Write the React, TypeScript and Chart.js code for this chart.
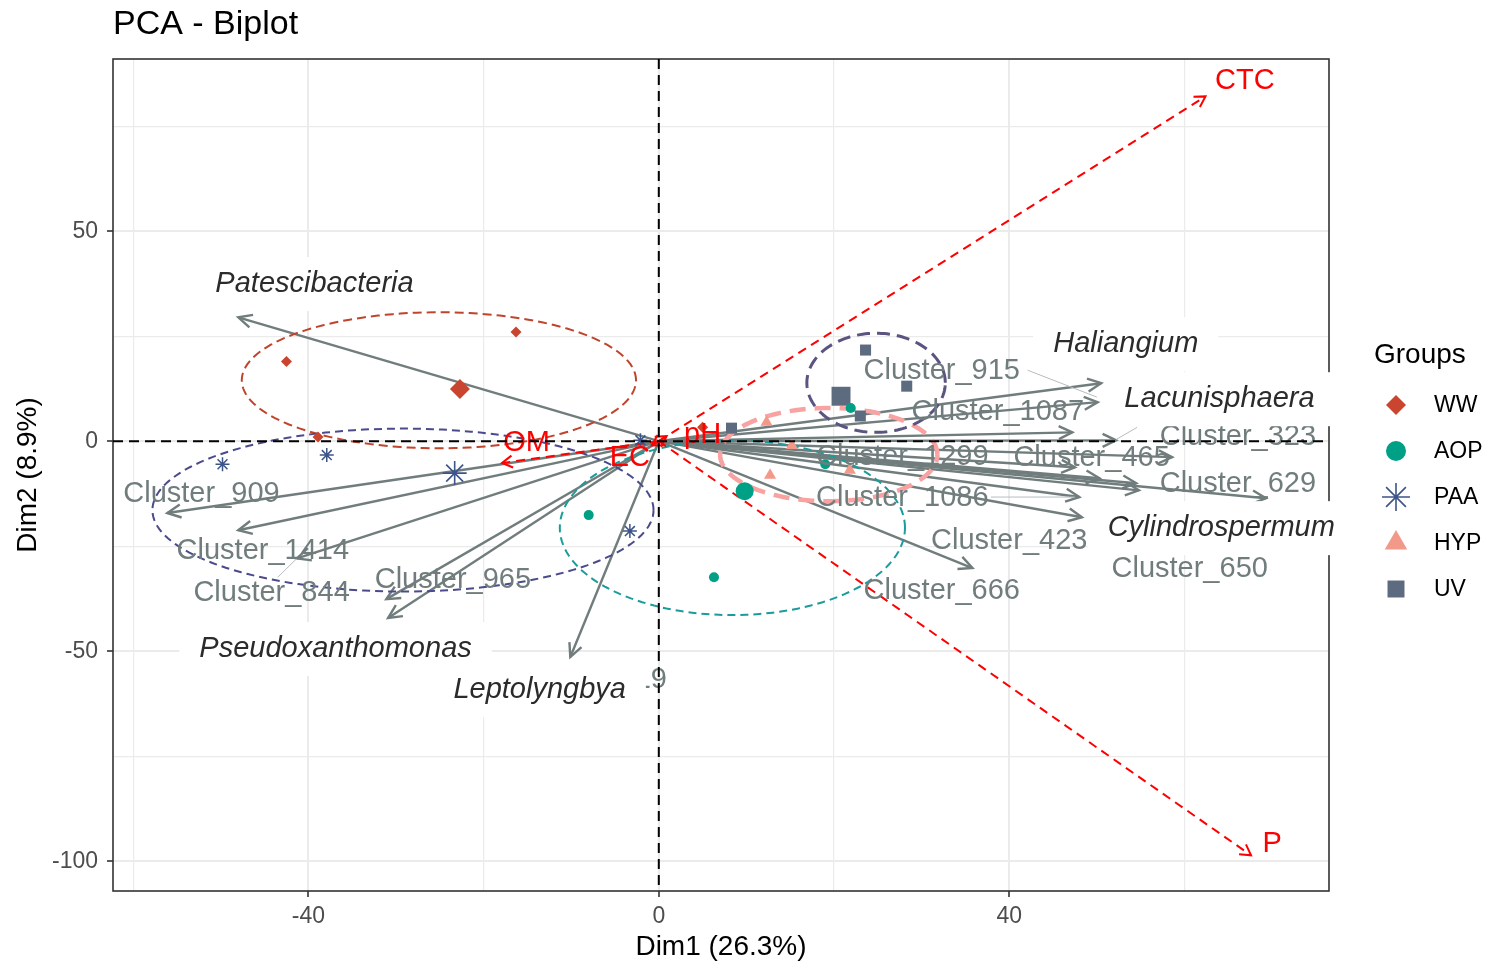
import React, { useEffect, useRef } from "react";
import { Chart, registerables } from "chart.js";

Chart.register(...registerables);

const FONT = "'Liberation Sans', Arial, Helvetica, sans-serif";

// ---------------- axes ----------------
const xMin = -62.3;
const xMax = 76.5;
const yMin = -107.1;
const yMax = 91.0;
const xGridValues = [-60, -40, -20, 0, 20, 40, 60];
const xTickValues = [-40, 0, 40];
const yGridValues = [-100, -75, -50, -25, 0, 25, 50, 75];
const yTickValues = [-100, -50, 0, 50];
const xTitle = "Dim1 (26.3%)";
const yTitle = "Dim2 (8.9%)";
const chartTitle = "PCA - Biplot";

// ---------------- individuals ----------------
const groupNames = ["WW", "AOP", "PAA", "HYP", "UV"];
const groupColors = ["#C9452F", "#00A087", "#3C5488", "#F3998A", "#5C6B80"];
const groupStyles = ["rectRot", "circle", "star", "triangle", "rect"];

const wwX = [-42.5, -16.3, -38.9, 5.0];
const wwY = [19.0, 26.0, 1.0, 3.3];
const aopX = [-8.0, 6.3, 21.9, 19.0];
const aopY = [-17.6, -32.4, 7.9, -5.5];
const paaX = [-49.8, -37.9, -3.3, -2.1];
const paaY = [-5.5, -3.3, -21.4, 0.2];
const hypX = [12.3, 15.2, 12.7, 21.8];
const hypY = [4.5, -1.0, -8.1, -6.9];
const uvX = [23.6, 28.3, 23.0, 8.3];
const uvY = [21.7, 13.1, 6.0, 3.1];

// group mean points (WW, AOP, PAA, UV)
const meanGroups = ["WW", "AOP", "PAA", "UV"];
const meanX = [-22.7, 9.8, -23.3, 20.8];
const meanY = [12.4, -11.9, -7.6, 10.7];

// ---------------- concentration ellipses ----------------
const ellipseGroups = ["WW", "PAA", "AOP", "HYP", "UV"];
const ellipseCX = [-25.1, -29.2, 8.4, 19.4, 24.8];
const ellipseCY = [14.5, -16.4, -20.6, -3.2, 13.9];
const ellipseRX = [22.5, 28.6, 19.7, 12.4, 7.9];
const ellipseRY = [16.2, 19.4, 20.8, 11.1, 11.8];
const ellipseColors = ["#C0432C", "#4A4A8C", "#1A9C9A", "#F8A2A2", "#5A5480"];
const ellipseWidths = [2, 2, 2, 4.5, 3];
const ellipseDash = [[9, 5], [8, 5], [8, 5], [16, 9], [13, 7]];

// ---------------- variable arrows (taxa) ----------------
const varX = [-48.0, -56.1, -48.0, -41.3, -31.1, -30.9, -10.1, 50.5, 50.1, 47.2, 52.2, 58.6, 47.5, 50.3, 54.5, 54.8, 48.0, 48.3, 69.3, 35.8];
const varY = [29.5, -17.1, -21.2, -27.9, -37.6, -42.1, -51.4, 13.8, 9.3, 2.1, 0.2, -3.8, -6.2, -8.8, -10.0, -11.7, -13.3, -18.1, -13.6, -30.2];

const clusterLabels = ["Cluster_909", "Cluster_1414", "Cluster_844", "Cluster_965", "Cluster_519", "Cluster_915", "Cluster_1087", "Cluster_323", "Cluster_1299", "Cluster_465", "Cluster_1086", "Cluster_629", "Cluster_423", "Cluster_650", "Cluster_666"];
const clusterLabelX = [-52.2, -45.2, -44.2, -23.5, -8.0, 32.3, 38.7, 66.1, 27.8, 49.4, 27.8, 66.1, 40.0, 60.6, 32.3];
const clusterLabelY = [-12.6, -26.2, -36.2, -33.1, -56.9, 16.7, 6.9, 1.0, -3.8, -4.0, -13.6, -10.2, -23.8, -30.5, -35.7];

const genusLabels = ["Patescibacteria", "Haliangium", "Lacunisphaera", "Cylindrospermum", "Pseudoxanthomonas", "Leptolyngbya"];
const genusLabelX = [-39.3, 53.3, 64.0, 64.2, -36.9, -13.6];
const genusLabelY = [37.4, 23.1, 10.0, -20.7, -49.5, -59.3];

// leader segments (from label to arrow tip)
const leaderX0 = [42.1, -43.5, 54.6, 37.9];
const leaderY0 = [16.9, -32.4, 3.3, -13.3];
const leaderX1 = [50.0, -41.3, 52.2, 47.5];
const leaderY1 = [10.5, -27.9, 0.4, -13.3];

// ---------------- supplementary variables ----------------
const supNames = ["CTC", "P", "OM", "EC", "pH"];
const supX = [62.4, 67.6, -17.9, -0.8, 0.9];
const supY = [82.1, -98.6, -5.2, -1.0, 1.2];
const supLabelX = [66.9, 70.0, -15.1, -3.3, 5.0];
const supLabelY = [85.7, -96.0, -0.5, -4.0, 1.4];

// ---------------- helpers ----------------
function arrowHead(ctx: CanvasRenderingContext2D, x0: number, y0: number, x1: number, y1: number, len: number, ang: number) {
  const a = Math.atan2(y1 - y0, x1 - x0);
  ctx.beginPath();
  ctx.moveTo(x1 - len * Math.cos(a - ang), y1 - len * Math.sin(a - ang));
  ctx.lineTo(x1, y1);
  ctx.lineTo(x1 - len * Math.cos(a + ang), y1 - len * Math.sin(a + ang));
  ctx.stroke();
}

function drawMarker(ctx: CanvasRenderingContext2D, style: string, x: number, y: number, r: number, color: string) {
  ctx.save();
  ctx.fillStyle = color;
  ctx.strokeStyle = color;
  ctx.setLineDash([]);
  ctx.beginPath();
  if (style === "rectRot") {
    ctx.moveTo(x, y - r);
    ctx.lineTo(x + r, y);
    ctx.lineTo(x, y + r);
    ctx.lineTo(x - r, y);
    ctx.closePath();
    ctx.fill();
  } else if (style === "circle") {
    ctx.arc(x, y, r, 0, Math.PI * 2);
    ctx.fill();
  } else if (style === "star") {
    ctx.lineWidth = 1.6;
    for (let k = 0; k < 4; k++) {
      const a = (k * Math.PI) / 4;
      ctx.moveTo(x - r * Math.cos(a), y - r * Math.sin(a));
      ctx.lineTo(x + r * Math.cos(a), y + r * Math.sin(a));
    }
    ctx.stroke();
  } else if (style === "triangle") {
    ctx.moveTo(x, y - r);
    ctx.lineTo(x + r * Math.sin(Math.PI / 3), y + r / 2);
    ctx.lineTo(x - r * Math.sin(Math.PI / 3), y + r / 2);
    ctx.closePath();
    ctx.fill();
  } else {
    const s = r * Math.SQRT1_2;
    ctx.rect(x - s, y - s, 2 * s, 2 * s);
    ctx.fill();
  }
  ctx.restore();
}

const ARROW_GRAY = "#717D7D";

const biplotPlugin = {
  id: "biplot",
  beforeDatasetsDraw(chart: any) {
    const ctx: CanvasRenderingContext2D = chart.ctx;
    const px = (v: number) => chart.scales.x.getPixelForValue(v);
    const py = (v: number) => chart.scales.y.getPixelForValue(v);
    const { left, right, top, bottom } = chart.chartArea;
    ctx.save();
    // panel border
    ctx.strokeStyle = "#333333";
    ctx.lineWidth = 1.6;
    ctx.strokeRect(left, top, right - left, bottom - top);

    // gray variable arrows
    const ox = px(0);
    const oy = py(0);
    ctx.strokeStyle = ARROW_GRAY;
    ctx.lineWidth = 2.4;
    ctx.lineCap = "butt";
    varX.forEach((vx, i) => {
      const tx = px(vx);
      const ty = py(varY[i]);
      ctx.beginPath();
      ctx.moveTo(ox, oy);
      ctx.lineTo(tx, ty);
      ctx.stroke();
      arrowHead(ctx, ox, oy, tx, ty, 15, Math.PI / 7);
    });

    // leader lines
    ctx.strokeStyle = "#B5BDBD";
    ctx.lineWidth = 1;
    leaderX0.forEach((lx, i) => {
      ctx.beginPath();
      ctx.moveTo(px(lx), py(leaderY0[i]));
      ctx.lineTo(px(leaderX1[i]), py(leaderY1[i]));
      ctx.stroke();
    });

    // ellipses
    ellipseCX.forEach((cx, i) => {
      ctx.strokeStyle = ellipseColors[i];
      ctx.lineWidth = ellipseWidths[i];
      ctx.setLineDash(ellipseDash[i]);
      ctx.beginPath();
      const n = 160;
      for (let k = 0; k <= n; k++) {
        const t = (k / n) * Math.PI * 2;
        const x = px(cx + ellipseRX[i] * Math.cos(t));
        const y = py(ellipseCY[i] + ellipseRY[i] * Math.sin(t));
        if (k === 0) ctx.moveTo(x, y);
        else ctx.lineTo(x, y);
      }
      ctx.stroke();
    });
    ctx.setLineDash([]);

    // supplementary red arrows
    ctx.strokeStyle = "#FF0000";
    ctx.lineWidth = 2;
    supX.forEach((sx, i) => {
      const tx = px(sx);
      const ty = py(supY[i]);
      ctx.setLineDash([9, 6]);
      ctx.beginPath();
      ctx.moveTo(ox, oy);
      ctx.lineTo(tx, ty);
      ctx.stroke();
      ctx.setLineDash([]);
      arrowHead(ctx, ox, oy, tx, ty, 12, Math.PI / 6);
    });
    ctx.restore();
  },
  afterDatasetsDraw(chart: any) {
    const ctx: CanvasRenderingContext2D = chart.ctx;
    const px = (v: number) => chart.scales.x.getPixelForValue(v);
    const py = (v: number) => chart.scales.y.getPixelForValue(v);
    const { left, right, top, bottom } = chart.chartArea;
    ctx.save();
    ctx.textAlign = "center";
    ctx.textBaseline = "middle";

    // cluster labels
    ctx.font = `29px ${FONT}`;
    ctx.fillStyle = ARROW_GRAY;
    clusterLabels.forEach((t, i) => {
      ctx.fillText(t, px(clusterLabelX[i]), py(clusterLabelY[i]));
    });

    // genus labels with white boxes
    ctx.font = `italic 29px ${FONT}`;
    genusLabels.forEach((t, i) => {
      const x = px(genusLabelX[i]);
      const y = py(genusLabelY[i]);
      const w = ctx.measureText(t).width;
      ctx.fillStyle = "#FFFFFF";
      ctx.fillRect(x - w / 2 - 20, y - 27, w + 40, 54);
      ctx.fillStyle = "#2B2B2B";
      ctx.fillText(t, x, y);
    });

    // supplementary labels
    ctx.font = `29px ${FONT}`;
    ctx.fillStyle = "#FF0000";
    supNames.forEach((t, i) => {
      ctx.fillText(t, px(supLabelX[i]), py(supLabelY[i]));
    });

    // zero lines
    ctx.strokeStyle = "#000000";
    ctx.lineWidth = 2;
    ctx.setLineDash([10, 6]);
    ctx.beginPath();
    ctx.moveTo(left, py(0));
    ctx.lineTo(right, py(0));
    ctx.stroke();
    ctx.beginPath();
    ctx.moveTo(px(0), top);
    ctx.lineTo(px(0), bottom);
    ctx.stroke();
    ctx.setLineDash([]);

    // title
    ctx.textAlign = "left";
    ctx.fillStyle = "#000000";
    ctx.font = `34px ${FONT}`;
    ctx.fillText(chartTitle, left, 25);

    // legend
    ctx.font = `28px ${FONT}`;
    ctx.fillText("Groups", 1374, 355);
    ctx.font = `23px ${FONT}`;
    const sizes = [10, 10, 14, 13, 12];
    groupNames.forEach((g, i) => {
      const y = 405 + i * 46;
      drawMarker(ctx, groupStyles[i], 1396, y, sizes[i], groupColors[i]);
      ctx.fillStyle = "#000000";
      ctx.fillText(g, 1434, y + 1);
    });
    ctx.restore();
  },
};

function pts(xs: number[], ys: number[]) {
  return xs.map((x, i) => ({ x, y: ys[i] }));
}

export default function App() {
  const canvasRef = useRef<HTMLCanvasElement | null>(null);

  useEffect(() => {
    if (!canvasRef.current) return;
    const groupData = [pts(wwX, wwY), pts(aopX, aopY), pts(paaX, paaY), pts(hypX, hypY), pts(uvX, uvY)];
    const smallRadius = [5.5, 5, 7, 7, 7.8];
    const meanRadius: Record<string, number> = { WW: 10, AOP: 9, PAA: 12, UV: 13.4 };
    const datasets: any[] = groupNames.map((g, i) => ({
      label: g,
      data: groupData[i],
      pointStyle: groupStyles[i],
      pointRadius: smallRadius[i],
      pointBackgroundColor: groupColors[i],
      pointBorderColor: groupColors[i],
      pointBorderWidth: groupStyles[i] === "star" ? 1.5 : 0,
      showLine: false,
    }));
    meanGroups.forEach((g, i) => {
      const gi = groupNames.indexOf(g);
      datasets.push({
        label: g + " mean",
        data: [{ x: meanX[i], y: meanY[i] }],
        pointStyle: groupStyles[gi],
        pointRadius: meanRadius[g],
        pointBackgroundColor: groupColors[gi],
        pointBorderColor: groupColors[gi],
        pointBorderWidth: groupStyles[gi] === "star" ? 1.6 : 0,
        showLine: false,
      });
    });

    const chart = new Chart(canvasRef.current, {
      type: "scatter",
      data: { datasets },
      plugins: [biplotPlugin],
      options: {
        animation: false,
        responsive: true,
        maintainAspectRatio: false,
        devicePixelRatio: 1,
        events: [],
        layout: { padding: { top: 59, right: 162, bottom: 0, left: 0 } },
        plugins: { legend: { display: false }, tooltip: { enabled: false }, title: { display: false } },
        scales: {
          x: {
            type: "linear",
            min: xMin,
            max: xMax,
            afterBuildTicks: (scale: any) => {
              scale.ticks = xGridValues.map((v) => ({ value: v }));
            },
            afterFit: (scale: any) => {
              scale.height = 73;
            },
            border: { display: false },
            grid: {
              color: "#EBEBEB",
              lineWidth: (c: any) => (xTickValues.includes(c.tick?.value) ? 2 : 1.2),
              drawTicks: true,
              tickLength: 6,
              tickWidth: 1.6,
              tickColor: (c: any) => (xTickValues.includes(c.tick?.value) ? "#333333" : "rgba(0,0,0,0)"),
            },
            ticks: {
              autoSkip: false,
              maxRotation: 0,
              padding: 6,
              color: "#4D4D4D",
              font: { family: FONT, size: 23 },
              callback: (v: any) => (xTickValues.includes(v) ? String(v) : ""),
            },
            title: {
              display: true,
              text: xTitle,
              color: "#000000",
              font: { family: FONT, size: 28 },
              padding: { top: 0, bottom: 0 },
            },
          },
          y: {
            type: "linear",
            min: yMin,
            max: yMax,
            afterBuildTicks: (scale: any) => {
              scale.ticks = yGridValues.map((v) => ({ value: v }));
            },
            afterFit: (scale: any) => {
              scale.width = 113;
            },
            border: { display: false },
            grid: {
              color: "#EBEBEB",
              lineWidth: (c: any) => (yTickValues.includes(c.tick?.value) ? 2 : 1.2),
              drawTicks: true,
              tickLength: 6,
              tickWidth: 1.6,
              tickColor: (c: any) => (yTickValues.includes(c.tick?.value) ? "#333333" : "rgba(0,0,0,0)"),
            },
            ticks: {
              autoSkip: false,
              padding: 9,
              color: "#4D4D4D",
              font: { family: FONT, size: 23 },
              callback: (v: any) => (yTickValues.includes(v) ? String(v) : ""),
            },
            title: {
              display: true,
              text: yTitle,
              color: "#000000",
              font: { family: FONT, size: 28 },
              padding: { top: 11, bottom: 0 },
            },
          },
        },
      } as any,
    });
    return () => chart.destroy();
  }, []);

  return (
    <div style={{ position: "fixed", left: 0, top: 0, width: 1491, height: 964, background: "#FFFFFF" }}>
      <canvas ref={canvasRef} />
    </div>
  );
}
